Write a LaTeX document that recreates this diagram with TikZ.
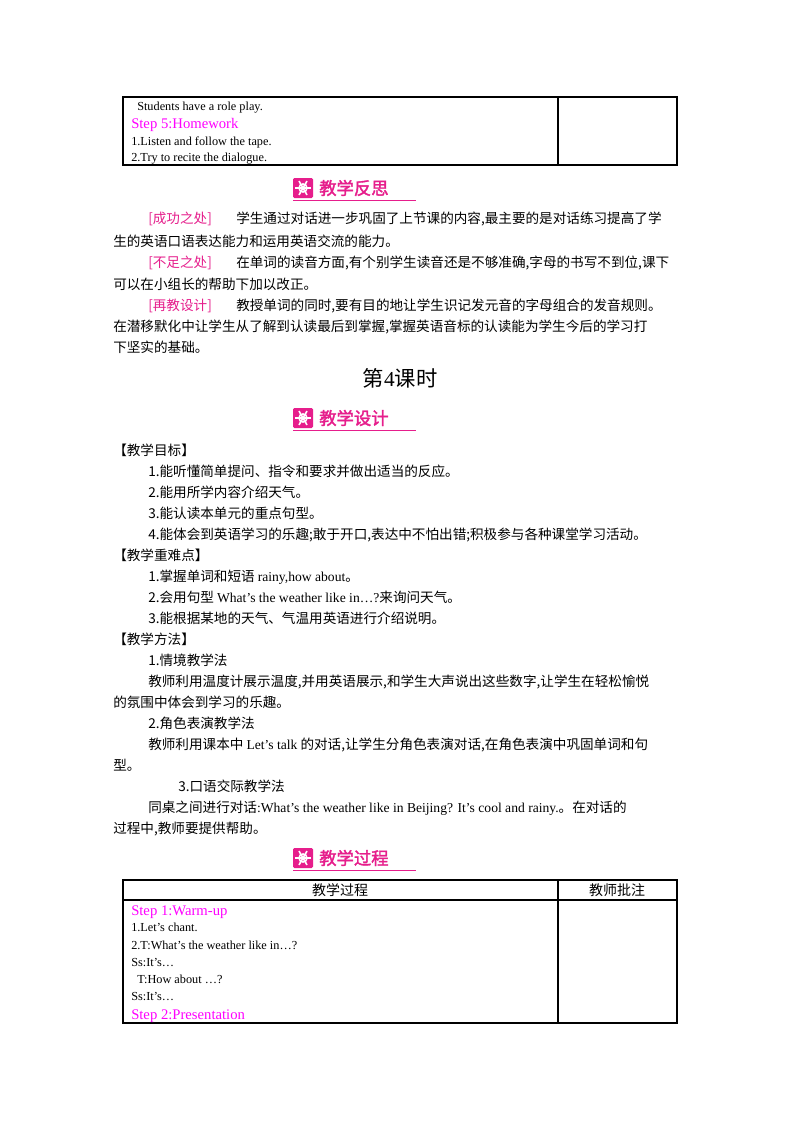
\documentclass[tikz,border=0pt]{standalone}
\usepackage{fontspec}
\setmainfont{Liberation Serif}
\newfontfamily\cjk{Noto Sans CJK SC}
\newfontfamily\cjkb{Noto Sans CJK SC}[FakeBold=2]
\definecolor{pk}{RGB}{230,30,140}
\definecolor{mg}{RGB}{255,0,255}
\begin{document}
\begin{tikzpicture}[x=0.75pt,y=-0.75pt,
  t/.style={anchor=base west,inner sep=0pt,font=\cjk\fontsize{10.2}{12}\selectfont},
  s/.style={anchor=base west,inner sep=0pt,font=\fontsize{9.2}{10}\selectfont},
  st/.style={anchor=base west,inner sep=0pt,text=mg,font=\fontsize{11}{12}\selectfont},
  tb/.style={draw,line width=0.8pt}]
\useasboundingbox (0,0) rectangle (800,1132);
\fill[white] (0,0) rectangle (800,1132);
\newcommand\banner[3]{%
  \fill[pk,rounded corners=1pt] (#1,#2-10) rectangle (#1+20,#2+10);
  \draw[white,line width=1.2pt] (#1+10,#2) circle (4);
  \foreach \a in {0,60,...,300}{\draw[white,line width=1.2pt] (#1+10,#2) -- ++(\a:8);}
  \node[anchor=west,inner sep=0pt,text=pk,font=\cjkb\fontsize{13}{14}\selectfont] (#3) at (#1+26,#2) {#3};
  \draw[pk,line width=0.6pt] (#1,#2+12) -- (#1+123,#2+12);}
% table 1
\draw[tb] (123,97) rectangle (677,165);
\draw[tb] (558,97) -- (558,165);
\node[s] (a1) at (137,110) {Students have a role play.};
\node[st] (a2) at (131,128) {Step 5:Homework};
\node[s] (a3) at (131,145) {1.Listen and follow the tape.};
\node[s] (a4) at (131,161) {2.Try to recite the dialogue.};
\banner{293}{188}{教学反思}
\node[t,text=pk] (r1) at (148,223) {[成功之处]};
\node[t] (r1b) at (236,223) {学生通过对话进一步巩固了上节课的内容,最主要的是对话练习提高了学};
\node[t] (r2) at (113,246) {生的英语口语表达能力和运用英语交流的能力。};
\node[t,text=pk] (r3) at (148,267) {[不足之处]};
\node[t] (r3b) at (236,267) {在单词的读音方面,有个别学生读音还是不够准确,字母的书写不到位,课下};
\node[t] (r4) at (113,289) {可以在小组长的帮助下加以改正。};
\node[t,text=pk] (r5) at (148,310) {[再教设计]};
\node[t] (r5b) at (236,310) {教授单词的同时,要有目的地让学生识记发元音的字母组合的发音规则。};
\node[t] (r6) at (113,331) {在潜移默化中让学生从了解到认读最后到掌握,掌握英语音标的认读能为学生今后的学习打};
\node[t] (r7) at (113,352) {下坚实的基础。};
\node[inner sep=0pt,font=\fontsize{16}{17}\selectfont] (title) at (400,378) {{\cjk 第}4{\cjk 课时}};
\banner{293}{418}{教学设计}
\node[t] (b0) at (113,455) {【教学目标】};
\node[t] (b1) at (148,476) {1.能听懂简单提问、指令和要求并做出适当的反应。};
\node[t] (b2) at (148,497) {2.能用所学内容介绍天气。};
\node[t] (b3) at (148,518) {3.能认读本单元的重点句型。};
\node[t] (b4) at (148,539) {4.能体会到英语学习的乐趣;敢于开口,表达中不怕出错;积极参与各种课堂学习活动。};
\node[t] (b5) at (113,560) {【教学重难点】};
\node[t] (b6) at (148,581) {1.掌握单词和短语 {\rmfamily rainy,how about}。};
\node[t] (b7) at (148,602) {2.会用句型 {\rmfamily What’s the weather like in…?}来询问天气。};
\node[t] (b8) at (148,623) {3.能根据某地的天气、气温用英语进行介绍说明。};
\node[t] (b9) at (113,644) {【教学方法】};
\node[t] (b10) at (148,665) {1.情境教学法};
\node[t] (b11) at (148,686) {教师利用温度计展示温度,并用英语展示,和学生大声说出这些数字,让学生在轻松愉悦};
\node[t] (b12) at (113,707) {的氛围中体会到学习的乐趣。};
\node[t] (b13) at (148,728) {2.角色表演教学法};
\node[t] (b14) at (148,749) {教师利用课本中 {\rmfamily Let’s talk} 的对话,让学生分角色表演对话,在角色表演中巩固单词和句};
\node[t] (b15) at (113,770) {型。};
\node[t] (b16) at (178,791) {3.口语交际教学法};
\node[t] (b17) at (148,812) {同桌之间进行对话{\rmfamily :What’s the weather like in Beijing? It’s cool and rainy.}。在对话的};
\node[t] (b18) at (113,833) {过程中,教师要提供帮助。};
\banner{293}{858}{教学过程}
% table 2
\draw[tb] (123,880) rectangle (677,1023);
\draw[tb] (558,880) -- (558,1023);
\draw[tb] (123,900) -- (677,900);
\node[inner sep=0pt,font=\cjk\fontsize{10.5}{12}\selectfont] (h1) at (340,890) {教学过程};
\node[inner sep=0pt,font=\cjk\fontsize{10.5}{12}\selectfont] (h2) at (617,890) {教师批注};
\node[st] (c1) at (131,915) {Step 1:Warm-up};
\node[s] (c2) at (131,931) {1.Let’s chant.};
\node[s] (c3) at (131,949) {2.T:What’s the weather like in…?};
\node[s] (c4) at (131,966) {Ss:It’s…};
\node[s] (c5) at (137,983) {T:How about …?};
\node[s] (c6) at (131,1000) {Ss:It’s…};
\node[st] (c7) at (131,1019) {Step 2:Presentation};
\end{tikzpicture}
\end{document}
